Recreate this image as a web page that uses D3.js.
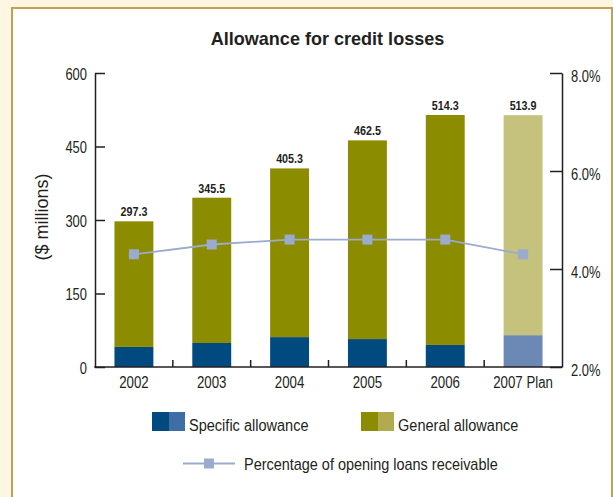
<!DOCTYPE html>
<html>
<head>
<meta charset="utf-8">
<script src="https://cdn.jsdelivr.net/npm/d3@7"></script>
<style>
  html, body { margin: 0; padding: 0; background: #fdf6e3; }
  svg { display: block; }
  text { font-family: "Liberation Sans", Arial, sans-serif; fill: #231f20; }
</style>
</head>
<body>
<script>
// Allowance for credit losses, 2002 - 2007 plan
const years = ["2002", "2003", "2004", "2005", "2006", "2007 Plan"];
const totalAllowance = [297.3, 345.5, 405.3, 462.5, 514.3, 513.9];
const specificAllowance = [41, 49, 61, 57, 45, 65];
const pctOfLoans = [4.3, 4.5, 4.6, 4.6, 4.6, 4.3];
const leftTicks = [0, 150, 300, 450, 600];
const rightTicks = [2, 4, 6, 8];

const W = 613, H = 497;
const ink = "#231f20";
const colSpecific = "#004a80", colSpecificPlan = "#6c88b4", colSpecificLegend = "#3f6ea6";
const colGeneral = "#8c8c00", colGeneralPlan = "#c4c27c", colGeneralLegend = "#b0ab4e";
const colLine = "#9aabcd";

const svg = d3.select("body").append("svg").attr("width", W).attr("height", H);

// condensed-looking text: a regular face squeezed horizontally
function label(parent, x, y, str, o = {}) {
  return parent.append("text")
    .attr("transform", `translate(${x},${y}) scale(${o.sx ?? 0.84},1)`)
    .attr("text-anchor", o.anchor || "start")
    .style("font-size", (o.size || 15.5) + "px")
    .style("font-weight", o.weight || "normal")
    .text(str);
}

// framed panel
svg.append("rect").attr("x", 0).attr("y", 0).attr("width", W).attr("height", H).attr("fill", "#fdf6e3");
svg.append("rect").attr("x", 12).attr("y", 8).attr("width", 600).attr("height", H + 10)
  .attr("fill", "#fff").attr("stroke", "#c1a04f").attr("stroke-width", 2);

label(svg, 327.5, 45, "Allowance for credit losses", { size: 19, weight: "bold", anchor: "middle", sx: 0.95 });

const x = d3.scaleBand().domain(years).range([95, 562]).paddingInner(0.5).paddingOuter(0.25);
const y = d3.scaleLinear().domain([0, 600]).range([367, 73]);
const yR = d3.scaleLinear().domain([2, 8]).range([367, 73]);

const rows = years.map((yr, i) => ({
  year: yr, total: totalAllowance[i], specific: specificAllowance[i], pct: pctOfLoans[i],
  plan: yr.includes("Plan")
}));

// stacked bars: specific at the base, general on top up to the total
const g = svg.append("g");
g.selectAll("rect.specific").data(rows).join("rect").attr("class", "specific")
  .attr("x", d => x(d.year)).attr("width", x.bandwidth())
  .attr("y", d => y(d.specific)).attr("height", d => y(0) - y(d.specific))
  .attr("fill", d => d.plan ? colSpecificPlan : colSpecific);
g.selectAll("rect.general").data(rows).join("rect").attr("class", "general")
  .attr("x", d => x(d.year)).attr("width", x.bandwidth())
  .attr("y", d => y(d.total)).attr("height", d => y(d.specific) - y(d.total))
  .attr("fill", d => d.plan ? colGeneralPlan : colGeneral);

rows.forEach(d => label(g, x(d.year) + x.bandwidth() / 2, y(d.total) - 5, d.total.toFixed(1),
  { size: 12.8, weight: "bold", anchor: "middle", sx: 0.84 }));

// axes
const axisStyle = sel => {
  sel.select(".domain").attr("stroke", ink).attr("stroke-width", 1.5);
  sel.selectAll(".tick line").attr("stroke", ink).attr("stroke-width", 1.5);
  sel.selectAll(".tick text").remove();
};

svg.append("g").attr("transform", "translate(95,0)")
  .call(d3.axisRight(y).tickValues(leftTicks).tickSize(10).tickSizeOuter(0))
  .call(axisStyle);
leftTicks.forEach(v => label(svg, 87, y(v) + 6.5, d3.format("d")(v), { size: 15.8, anchor: "end", sx: 0.82 }));

svg.append("g").attr("transform", "translate(562,0)")
  .call(d3.axisLeft(yR).tickValues(rightTicks).tickSize(12).tickSizeOuter(0))
  .call(axisStyle);
rightTicks.forEach(v => label(svg, 571, yR(v) + 9, v.toFixed(1) + "%", { size: 15.8, sx: 0.82 }));

// bottom axis: ticks sit between the bars
const xAxis = svg.append("g").attr("transform", "translate(0,367)");
xAxis.append("line").attr("x1", 94.25).attr("x2", 562).attr("stroke", ink).attr("stroke-width", 1.5);
const gap = x.step() * x.paddingInner() / 2;
xAxis.selectAll("line.sep").data(years.slice(1)).join("line").attr("class", "sep")
  .attr("x1", d => x(d) - gap).attr("x2", d => x(d) - gap)
  .attr("y1", 0).attr("y2", -7).attr("stroke", ink).attr("stroke-width", 1.5);
years.forEach(yr => label(xAxis, x(yr) + x.bandwidth() / 2, 21, yr, { size: 15.8, anchor: "middle", sx: 0.84 }));

svg.append("text").attr("transform", "translate(48,217) rotate(-90)").attr("text-anchor", "middle")
  .style("font-size", "18px").text("($ millions)");

// percentage line
const line = d3.line().x(d => x(d.year) + x.bandwidth() / 2).y(d => yR(d.pct));
svg.append("path").datum(rows).attr("d", line).attr("fill", "none").attr("stroke", colLine).attr("stroke-width", 1.8);
svg.selectAll("rect.pt").data(rows).join("rect").attr("class", "pt")
  .attr("x", d => x(d.year) + x.bandwidth() / 2 - 5).attr("y", d => yR(d.pct) - 5)
  .attr("width", 10).attr("height", 10).attr("fill", colLine);

// legend
const leg = svg.append("g");
const swatch = (x0, c1, c2, text) => {
  leg.append("rect").attr("x", x0).attr("y", 412).attr("width", 17).attr("height", 19).attr("fill", c1);
  leg.append("rect").attr("x", x0 + 17).attr("y", 412).attr("width", 16).attr("height", 19).attr("fill", c2);
  label(leg, x0 + 37, 430.5, text, { size: 15.8, sx: 0.92 });
};
swatch(152, colSpecific, colSpecificLegend, "Specific allowance");
swatch(361, colGeneral, colGeneralLegend, "General allowance");
leg.append("line").attr("x1", 183).attr("x2", 235).attr("y1", 463.5).attr("y2", 463.5)
  .attr("stroke", colLine).attr("stroke-width", 1.8);
leg.append("rect").attr("x", 204).attr("y", 458.5).attr("width", 10).attr("height", 10).attr("fill", colLine);
label(leg, 244, 469.5, "Percentage of opening loans receivable", { size: 15.8, sx: 0.915 });
</script>
</body>
</html>
